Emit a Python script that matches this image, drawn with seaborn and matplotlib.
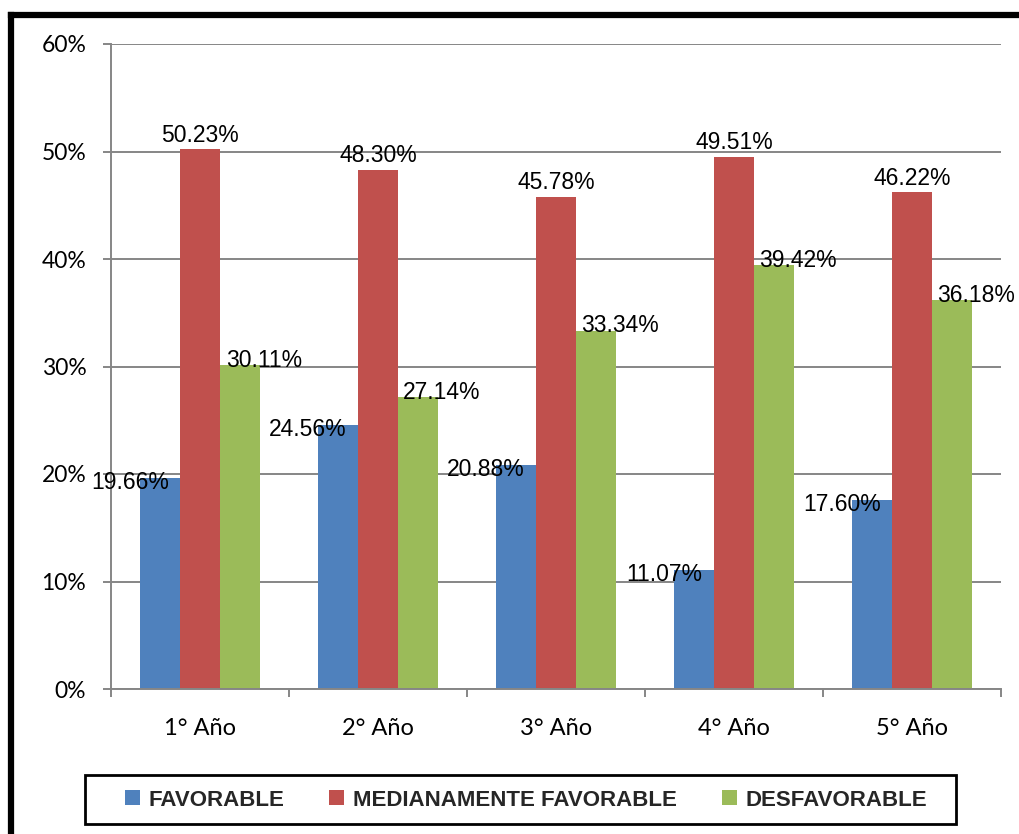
import matplotlib
matplotlib.use("Agg")
import matplotlib.pyplot as plt
from matplotlib.lines import Line2D
from matplotlib.patches import Rectangle
from matplotlib.ticker import FuncFormatter, MultipleLocator
import pandas as pd
import seaborn as sns

# Survey results per school year (percent)
years = ["1° Año", "2° Año", "3° Año", "4° Año", "5° Año"]
series_names = ["FAVORABLE", "MEDIANAMENTE FAVORABLE", "DESFAVORABLE"]
favorable = [19.66, 24.56, 20.88, 11.07, 17.60]
medianamente = [50.23, 48.30, 45.78, 49.51, 46.22]
desfavorable = [30.11, 27.14, 33.34, 39.42, 36.18]
y_ticks = [0, 10, 20, 30, 40, 50, 60]

colors = ["#4F81BD", "#C0504D", "#9BBB59"]

df = pd.DataFrame({
    "year": years * 3,
    "serie": [series_names[0]] * 5 + [series_names[1]] * 5 + [series_names[2]] * 5,
    "value": [v / 100 for v in favorable + medianamente + desfavorable],
})

sns.set_theme(style="white")
plt.rcParams["font.family"] = ["Lato", "DejaVu Sans"]

W, H = 1020, 834
fig = plt.figure(figsize=(W / 100, H / 100), dpi=100)
ax = fig.add_axes([111 / W, 1 - 689 / H, 890 / W, 645 / H])

sns.barplot(data=df, x="year", y="value", hue="serie", order=years,
            hue_order=series_names, palette=colors, width=0.674,
            saturation=1, linewidth=0, ax=ax, legend=True)

ax.set_xlim(-0.5, 4.5)
ax.set_ylim(0, 0.6)
ax.set_yticks([t / 100 for t in y_ticks])
ax.yaxis.set_major_formatter(FuncFormatter(lambda v, p: f"{v * 100:.0f}%"))
ax.set_xlabel("")
ax.set_ylabel("")

grid_c = "#868686"
ax.grid(axis="y", color=grid_c, linewidth=1.4)
ax.set_axisbelow(True)
for s in ["top", "right"]:
    ax.spines[s].set_visible(False)
for s in ["left", "bottom"]:
    ax.spines[s].set_color(grid_c)
    ax.spines[s].set_linewidth(1.4)

ax.tick_params(axis="y", length=5.8, width=1.4, color=grid_c, pad=12,
               labelsize=16.5, labelcolor="black", left=True)
ax.tick_params(axis="x", which="major", length=0, pad=21, labelsize=17,
               labelcolor="black")
ax.xaxis.set_minor_locator(MultipleLocator(1, offset=0.5))
ax.tick_params(axis="x", which="minor", length=5.8, width=1.4, color=grid_c,
               bottom=True)

# Value labels next to each bar
offsets = [(-30, -5), (0, 14), (24, 5)]
for container, (dx, dy) in zip(ax.containers, offsets):
    for bar in container:
        v = bar.get_height()
        ax.annotate(f"{v * 100:.2f}%",
                    (bar.get_x() + bar.get_width() / 2, v),
                    xytext=(dx, dy), textcoords="offset pixels",
                    ha="center", va="center", fontsize=16.5,
                    family=["Liberation Sans", "DejaVu Sans"], color="black")

handles, labels = ax.get_legend_handles_labels()
ax.get_legend().remove()
fig.legend(handles, labels, loc="center",
           bbox_to_anchor=(526 / W, 1 - 800 / H), ncol=3, frameon=False,
           prop={"family": "Liberation Sans", "weight": "bold", "size": 16},
           handlelength=0.68, handleheight=0.68, handletextpad=0.4,
           columnspacing=2.0)

# Legend box
fig.patches.append(Rectangle((85 / W, 1 - 824 / H), 871 / W, 49 / H,
                             transform=fig.transFigure, fill=False,
                             edgecolor="black", linewidth=2))
# Outer frame: left and top edges
x_left = 11.5 / W
y_top = 1 - 15 / H
fig.add_artist(Line2D([x_left, x_left], [0, y_top], transform=fig.transFigure,
                      color="black", linewidth=4.5, solid_capstyle="projecting"))
fig.add_artist(Line2D([x_left, 1], [y_top, y_top], transform=fig.transFigure,
                      color="black", linewidth=4.5, solid_capstyle="projecting"))

fig.savefig("out.png", dpi=100, facecolor="white")
